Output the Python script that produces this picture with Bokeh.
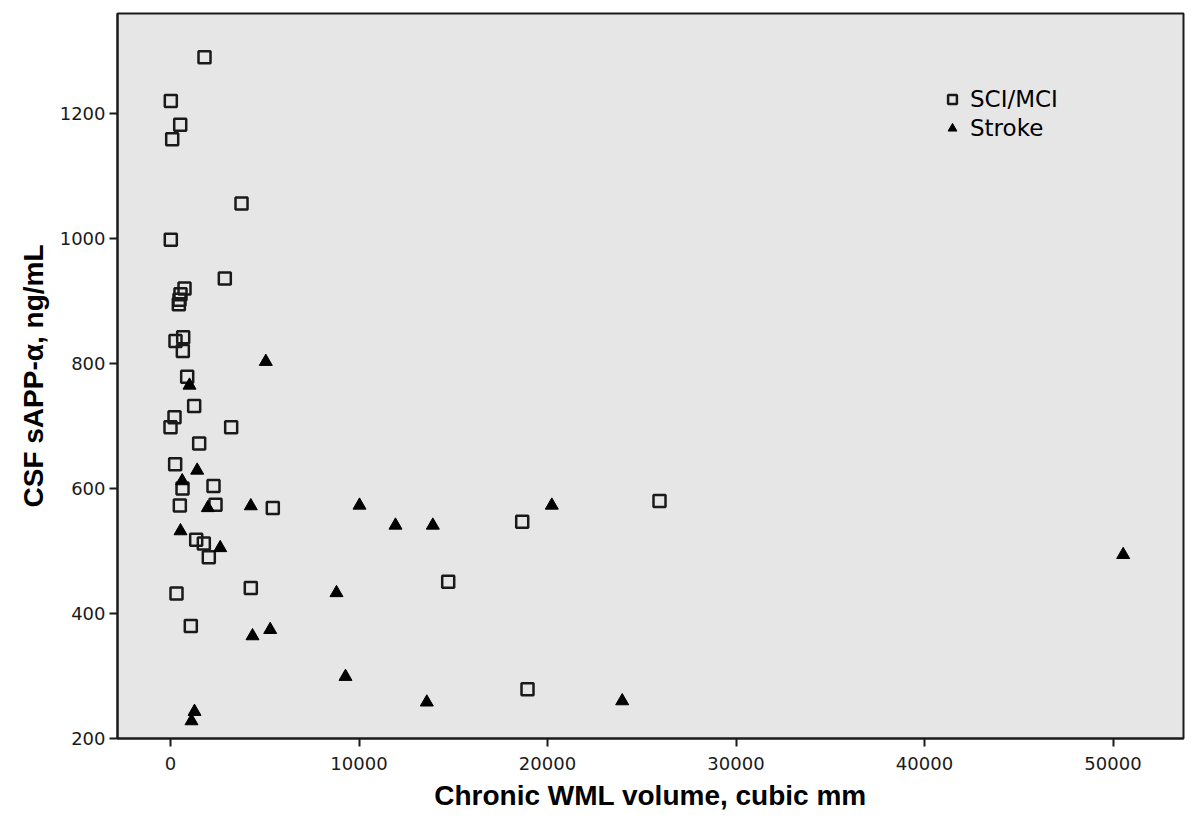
from bokeh.plotting import figure
from bokeh.models import Range1d, FixedTicker, Legend, LegendItem, ColumnDataSource
from bokeh.embed import file_html
from bokeh.resources import INLINE

# SCI/MCI group
sci_wml = [1804, 16, 515, 90, 3767, 16, 2881, 743, 530, 477, 442, 673, 265, 654, 885,
           1255, 212, 0, 3218, 1521, 247, 637, 2281, 495, 2387, 5427, 1363, 1767, 2032,
           318, 4260, 1077, 25942, 18658, 14732, 18939]
sci_sapp = [1290, 1220, 1182, 1159, 1056, 998, 936, 920, 911, 902, 895, 842, 836, 820, 779,
            732, 714, 698, 698, 672, 639, 600, 604, 573, 574, 569, 518, 512, 490,
            432, 441, 380, 580, 547, 451, 279]

# Stroke group
stroke_wml = [1008, 5056, 1415, 620, 1980, 4260, 530, 2637, 4350, 5289, 1273, 1114,
              20228, 13916, 13597, 23963, 10027, 11936, 8806, 9284, 50541]
stroke_sapp = [765, 803, 629, 612, 569, 572, 532, 505, 364, 374, 243, 228,
               573, 541, 258, 260, 573, 541, 433, 299, 494]

x_ticks = [0, 10000, 20000, 30000, 40000, 50000]
y_ticks = [200, 400, 600, 800, 1000, 1200]

p = figure(width=1192, height=813, output_backend="svg", toolbar_location=None,
           x_range=Range1d(-2812, 53740), y_range=Range1d(200, 1360),
           min_border_left=117, min_border_right=9, min_border_top=13, min_border_bottom=74)

p.background_fill_color = "#e6e6e6"
p.border_fill_color = "white"
p.outline_line_color = "#1a1a1a"
p.outline_line_width = 2
p.xgrid.visible = False
p.ygrid.visible = False

for ax in (p.xaxis, p.yaxis):
    ax.axis_line_color = "#1a1a1a"
    ax.axis_line_width = 2
    ax.major_tick_line_color = "#1a1a1a"
    ax.major_tick_line_width = 2
    ax.major_tick_out = 8
    ax.major_tick_in = 0
    ax.minor_tick_line_color = None
    ax.major_label_text_font = "DejaVu Sans"
    ax.major_label_text_font_size = "18px"
    ax.major_label_text_color = "#1a1a1a"
    ax.axis_label_text_font = "Liberation Sans"
    ax.axis_label_text_font_style = "bold"
    ax.axis_label_text_font_size = "28px"
    ax.axis_label_text_color = "black"

p.xaxis.ticker = FixedTicker(ticks=x_ticks)
p.yaxis.ticker = FixedTicker(ticks=y_ticks)
p.xaxis.axis_label = "Chronic WML volume, cubic mm"
p.yaxis.axis_label = "CSF sAPP-α, ng/mL"
p.xaxis.major_label_standoff = 10
p.yaxis.major_label_standoff = 4
p.xaxis.axis_label_standoff = 7
p.yaxis.axis_label_standoff = 8

src_sci = ColumnDataSource(dict(x=sci_wml, y=sci_sapp))
src_str = ColumnDataSource(dict(x=stroke_wml, y=stroke_sapp))

r1 = p.scatter("x", "y", source=src_sci, marker="square", size=12,
               fill_color=None, line_color="#1a1a1a", line_width=2.5)
r2 = p.scatter("x", "y", source=src_str, marker="triangle", size=13,
               fill_color="black", line_color="black", line_width=1)

legend = Legend(items=[LegendItem(label="SCI/MCI", renderers=[r1]),
                       LegendItem(label="Stroke", renderers=[r2])],
                location=(824, 597))
legend.background_fill_alpha = 0
legend.border_line_color = None
legend.padding = 0
legend.margin = 0
legend.spacing = 3
legend.glyph_width = 22
legend.glyph_height = 26
legend.label_height = 26
legend.label_standoff = 7
legend.label_text_font = "DejaVu Sans"
legend.label_text_font_size = "23px"
legend.label_text_color = "black"
p.add_layout(legend)

open("out.html", "w").write(file_html(p, INLINE))
